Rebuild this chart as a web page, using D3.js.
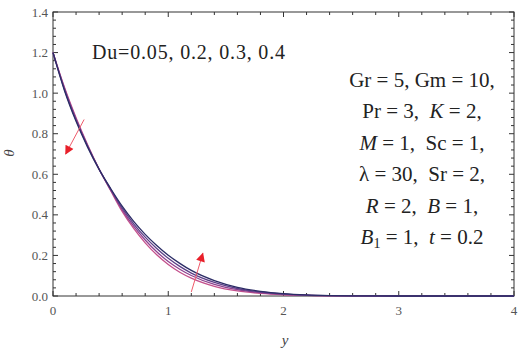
<!DOCTYPE html>
<html>
<head>
<meta charset="utf-8">
<script src="https://cdn.jsdelivr.net/npm/d3@7"></script>
<style>
  body { margin: 0; background: #fff; }
</style>
</head>
<body>
<div id="chart"></div>
<script>
// data
const yPts = [0, 0.1, 0.2, 0.3, 0.4, 0.5, 0.6, 0.7, 0.8, 0.9, 1.0, 1.1, 1.2, 1.4, 1.6, 1.8, 2.0, 2.2, 2.4, 2.6, 3, 4];
const duValues = [0.05, 0.2, 0.3, 0.4];
const theta005 = [1.2, 1.028, 0.879, 0.746, 0.626, 0.520, 0.417, 0.333, 0.262, 0.203, 0.155, 0.117, 0.088, 0.048, 0.025, 0.0128, 0.006, 0.0026, 0.001, 0.0003, 0, 0];
const theta02  = [1.2, 1.023, 0.873, 0.742, 0.625, 0.523, 0.426, 0.344, 0.276, 0.218, 0.170, 0.132, 0.101, 0.057, 0.031, 0.0163, 0.0079, 0.0035, 0.0014, 0.0004, 0, 0];
const theta03  = [1.2, 1.017, 0.867, 0.738, 0.625, 0.527, 0.434, 0.356, 0.290, 0.234, 0.186, 0.146, 0.113, 0.067, 0.037, 0.0197, 0.0097, 0.0045, 0.0018, 0.0006, 0, 0];
const theta04  = [1.2, 1.012, 0.861, 0.734, 0.624, 0.530, 0.443, 0.368, 0.304, 0.249, 0.201, 0.161, 0.126, 0.076, 0.043, 0.0232, 0.0116, 0.0054, 0.0022, 0.0007, 0, 0];
const series = [theta005, theta02, theta03, theta04];
const colors = ["#c4508c", "#8e4290", "#5c3f88", "#2c2c66"];
const xTicks = [0, 1, 2, 3, 4];
const yTicks = [0, 0.2, 0.4, 0.6, 0.8, 1.0, 1.2, 1.4];
// arrows: [x1, t1, x2, t2] in data units
const arrows = [[0.27, 0.87, 0.11, 0.70], [1.20, 0.02, 1.30, 0.21]];

const W = 520, H = 349;
const m = { left: 53, right: 6, top: 12, bottom: 53 };
const serif = "'Liberation Serif', 'Times New Roman', serif";

const svg = d3.select("#chart").append("svg")
  .attr("width", W).attr("height", H)
  .attr("font-family", serif);

const x = d3.scaleLinear().domain([0, 4]).range([m.left, W - m.right]);
const y = d3.scaleLinear().domain([0, 1.4]).range([H - m.bottom, m.top]);

const axisColor = "#333";

// frame
svg.append("rect")
  .attr("x", x(0)).attr("y", y(1.4))
  .attr("width", x(4) - x(0)).attr("height", y(0) - y(1.4))
  .attr("fill", "none").attr("stroke", axisColor).attr("stroke-width", 1);

const xMinor = d3.range(0, 4.001, 0.2);
const yMinor = d3.range(0, 1.401, 0.04);

function tickLen(v, step) {
  return Math.abs(v / step - Math.round(v / step)) < 1e-6 ? 5 : 3;
}

const g = svg.append("g").attr("stroke", axisColor).attr("stroke-width", 1);
xMinor.forEach(v => {
  const L = tickLen(v, 1);
  g.append("line").attr("x1", x(v)).attr("x2", x(v)).attr("y1", y(0)).attr("y2", y(0) - L);
  g.append("line").attr("x1", x(v)).attr("x2", x(v)).attr("y1", y(1.4)).attr("y2", y(1.4) + L);
});
yMinor.forEach(v => {
  const L = tickLen(v, 0.2);
  g.append("line").attr("y1", y(v)).attr("y2", y(v)).attr("x1", x(0)).attr("x2", x(0) + L);
  g.append("line").attr("y1", y(v)).attr("y2", y(v)).attr("x1", x(4)).attr("x2", x(4) - L);
});

// tick labels
svg.append("g").selectAll("text").data(xTicks).enter().append("text")
  .attr("x", d => x(d)).attr("y", y(0) + 19)
  .attr("text-anchor", "middle").attr("font-size", 13).attr("fill", "#555")
  .text(d => d);
svg.append("g").selectAll("text").data(yTicks).enter().append("text")
  .attr("x", x(0) - 5).attr("y", d => y(d) + 4.5)
  .attr("text-anchor", "end").attr("font-size", 13).attr("fill", "#555")
  .text(d => d.toFixed(1));

// axis labels
svg.append("text").attr("x", 285).attr("y", 345)
  .attr("text-anchor", "middle").attr("font-size", 15).attr("font-style", "italic").attr("fill", "#444")
  .text("y");
svg.append("text").attr("transform", "translate(14,153) rotate(-90)")
  .attr("text-anchor", "middle").attr("font-size", 15).attr("font-style", "italic").attr("fill", "#444")
  .text("θ");

// curves
const line = d3.line()
  .x((d, i) => x(yPts[i]))
  .y(d => y(d))
  .curve(d3.curveMonotoneX);

svg.append("g").selectAll("path").data(series).enter().append("path")
  .attr("d", line)
  .attr("fill", "none")
  .attr("stroke", (d, i) => colors[i])
  .attr("stroke-width", 1.3);

// arrows
const defs = svg.append("defs");
defs.append("marker").attr("id", "head")
  .attr("viewBox", "0 0 10 10").attr("refX", 9).attr("refY", 5)
  .attr("markerWidth", 12).attr("markerHeight", 9).attr("markerUnits", "userSpaceOnUse")
  .attr("orient", "auto")
  .append("path").attr("d", "M0,0 L10,5 L0,10 Z").attr("fill", "#e8202a");

arrows.forEach(a => {
  svg.append("line")
    .attr("x1", x(a[0])).attr("y1", y(a[1]))
    .attr("x2", x(a[2])).attr("y2", y(a[3]))
    .attr("stroke", "#ef5a6a").attr("stroke-width", 1)
    .attr("marker-end", "url(#head)");
});

// annotations
svg.append("text").attr("x", 92).attr("y", 59)
  .attr("font-size", 20).attr("fill", "#222")
  .attr("textLength", 193).attr("lengthAdjust", "spacing")
  .text("Du=" + duValues.join(", "));

const params = [
  [["Gr", 0], [" = 5, ", 0], ["Gm", 0], [" = 10,", 0]],
  [["Pr", 0], [" = 3,  ", 0], ["K", 1], [" = 2,", 0]],
  [["M", 1], [" = 1,  ", 0], ["Sc", 0], [" = 1,", 0]],
  [["λ", 0], [" = 30,  ", 0], ["Sr", 0], [" = 2,", 0]],
  [["R", 1], [" = 2,  ", 0], ["B", 1], [" = 1,", 0]],
  [["B", 1], ["1", 2], [" = 1,  ", 0], ["t", 1], [" = 0.2", 0]]
];
params.forEach((row, i) => {
  const t = svg.append("text")
    .attr("x", 422).attr("y", 87 + i * 31.4)
    .attr("text-anchor", "middle").attr("font-size", 21).attr("fill", "#222")
    .attr("xml:space", "preserve");
  let sub = false;
  row.forEach(p => {
    const s = t.append("tspan").text(p[0]);
    if (p[1] === 1) s.attr("font-style", "italic");
    if (p[1] === 2) { s.attr("font-size", 14).attr("dy", 4); sub = true; }
    else if (sub) { s.attr("dy", -4); sub = false; }
  });
});
</script>
</body>
</html>
